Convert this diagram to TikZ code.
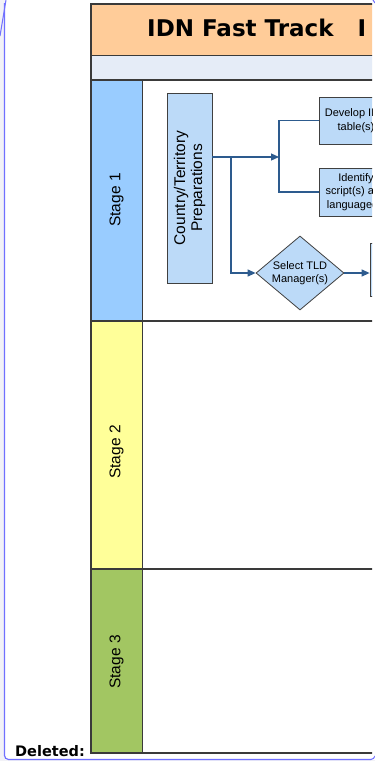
\documentclass[tikz,border=0pt]{standalone}
\usepackage{fontspec}
\setmainfont{Liberation Sans}
\newfontfamily\verd{DejaVu Sans}
\usetikzlibrary{shapes.geometric,arrows.meta}
\definecolor{peach}{HTML}{FFCC99}
\definecolor{bandblue}{HTML}{E5ECF7}
\definecolor{stageone}{HTML}{99CCFF}
\definecolor{stagetwo}{HTML}{FFFF99}
\definecolor{stagethree}{HTML}{A2C662}
\definecolor{boxfill}{HTML}{BCDAF8}
\definecolor{boxline}{HTML}{404040}
\definecolor{conn}{HTML}{2D5B8E}
\definecolor{framegray}{HTML}{3A3A3A}
\definecolor{markblue}{HTML}{7070FF}
\definecolor{stripgray}{HTML}{F2F2F7}
\tikzset{
  procbox/.style={draw=boxline, fill=boxfill, line width=0.8pt, inner sep=0pt,
    align=center, font=\fontsize{11}{13.5}\selectfont},
  decision/.style={procbox, diamond, minimum width=88pt, minimum height=74pt, aspect=1.19},
  conline/.style={draw=conn, line width=1.2pt},
  conarrow/.style={conline, -{Triangle[length=8pt,width=7pt]}},
  lanelabel/.style={rotate=90, font=\fontsize{15.5}{18}\selectfont},
  tableline/.style={draw=framegray, line width=1.2pt}
}
\begin{document}
\begin{tikzpicture}[x=1pt,y=-1pt]
\useasboundingbox (0,0) rectangle (375,761);
\fill[white] (0,0) rectangle (375,761);
\fill[stripgray] (0,0) rectangle (4.5,761);
\fill[stripgray] (0,759.5) rectangle (375,761);
% page markup frame
\draw[markblue, line width=1.2pt, rounded corners=4pt] (4.5,3) -- (4.5,759.5) -- (371,759.5);
\draw[markblue, line width=1pt] (0,36) -- (6,0);
\draw[markblue, line width=1pt] (373,0) -- (375,3);
\draw[markblue, line width=1pt] (371,759.5) to[bend right=30] (375,756);
\node[anchor=base west, font=\verd\bfseries\fontsize{14.5}{17}\selectfont, inner sep=0pt] (deleted) at (15,756) {Deleted:};

\begin{scope}
\clip (0,0) rectangle (372,761);
% bands
\fill[peach] (91,4) rectangle (380,55);
\fill[bandblue] (91,55) rectangle (380,80);
\fill[stageone] (91,80) rectangle (142,321);
\fill[stagetwo] (91,321) rectangle (142,569);
\fill[stagethree] (91,569) rectangle (142,753);
% lines
\draw[tableline] (91,4) rectangle (380,753);
\draw[tableline, line width=1pt] (91,55) -- (380,55);
\draw[tableline] (91,80) -- (380,80);
\draw[tableline] (91,321) -- (380,321);
\draw[tableline] (91,569) -- (380,569);
\draw[tableline, line width=1pt] (142,80) -- (142,753);
% title
\node[anchor=base west, inner sep=0pt, font=\verd\bfseries\fontsize{23}{27}\selectfont] (title) at (147,36) {IDN Fast Track\hspace{24pt}I};
% lane labels
\node[lanelabel] (s1) at (116.5,200) {Stage 1};
\node[lanelabel] (s2) at (116.5,452) {Stage 2};
\node[lanelabel] (s3) at (116.5,662) {Stage 3};
% process elements
\node[procbox, rotate=90, minimum width=190pt, minimum height=45pt,
      font=\fontsize{15.5}{17}\selectfont] (prep) at (189.5,188) {Country/Territory\\Preparations};
\node[procbox, minimum width=74pt, minimum height=47pt] (dev) at (356,120.5) {Develop IDN\\table(s)};
\node[procbox, minimum width=74pt, minimum height=48pt] (ident) at (356,192) {Identify\\script(s) and\\language(s)};
\node[decision] (sel) at (300,273) {Select TLD\\Manager(s)};
\node[procbox, minimum width=40pt, minimum height=53pt] (next) at (390,269.5) {};
% connectors
\coordinate (j1) at (279,157);
\coordinate (j2) at (231,157);
\draw[conarrow] (prep.south |- j1) -- (j1);
\draw[conline] (dev.west) -| (j1) |- (ident.west);
\draw[conarrow] (j2) |- (sel.west);
\draw[conarrow] (sel.east) -- (sel.east -| next.west);
\end{scope}
\end{tikzpicture}
\end{document}
